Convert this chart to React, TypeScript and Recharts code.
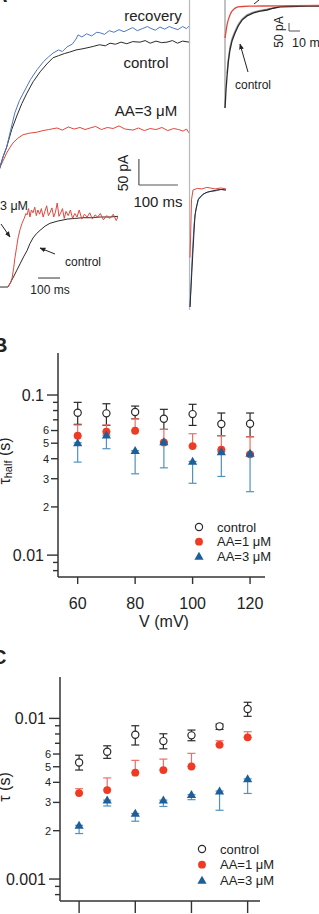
import React from "react";
import {
  LineChart,
  Line,
  XAxis,
  YAxis,
  ReferenceLine,
  ScatterChart,
  Scatter,
  ErrorBar,
} from "recharts";

const FONT = '"Liberation Sans", Arial, Helvetica, sans-serif';

// ---- panel A: current traces, [time ms, current pA] ----
const recoveryTrace: [number, number][] = [
  [-6, -18], [0, 0], [8, 20], [17, 38], [27, 70], [38, 104], [50, 128], [64, 148], [78, 168],
  [95, 187], [112, 203], [125, 212], [136, 219], [150, 225], [160, 222], [172, 231],
  [185, 236], [195, 246], [200, 254], [210, 250], [222, 256], [235, 252], [248, 259],
  [256, 258], [268, 255], [280, 262], [292, 259], [305, 264], [318, 260], [326, 263],
  [340, 268], [352, 262], [365, 266], [378, 270], [385, 267], [398, 263], [410, 269],
  [422, 265], [434, 270], [444, 267], [456, 264], [468, 270], [478, 266], [485, 271],
];
const controlTrace: [number, number][] = [
  [-6, -18], [0, 0], [8, 20], [17, 38], [30, 72], [44, 100], [56, 122], [69, 142], [85, 164],
  [103, 183], [120, 198], [136, 210], [150, 214], [165, 218], [179, 221], [195, 225],
  [210, 227], [223, 229], [240, 232], [255, 235], [270, 233], [282, 238], [296, 236],
  [310, 240], [325, 237], [340, 241], [359, 240], [372, 243], [385, 238], [400, 242],
  [414, 239], [428, 240], [442, 243], [455, 238], [468, 242], [485, 240],
];
const aa3Trace: [number, number][] = [
  [-6, -12], [0, 0], [8, 12], [17, 27], [25, 37], [33, 46], [45, 55], [59, 62], [75, 65],
  [95, 67], [110, 70], [125, 72], [146, 75], [160, 71], [175, 77], [190, 73],
  [205, 76], [218, 72], [231, 75], [245, 78], [260, 72], [275, 76], [290, 74],
  [305, 79], [320, 73], [341, 71], [355, 75], [370, 70], [385, 74], [400, 72],
  [415, 76], [430, 70], [445, 74], [458, 72], [469, 69], [478, 73], [485, 65],
];

// fast tail currents (bottom right of A)
const spikeRecovery: [number, number][] = [
  [1.3, -225], [6.4, -135], [11.5, -67], [16.7, -35], [24.4, -15], [39.7, -6],
  [52, -3], [65.4, -2], [80, 1], [93.6, 0],
];
const spikeControl: [number, number][] = [
  [1.3, -225], [9, -115], [14.1, -48], [21.8, -19], [34.6, -8], [46, -4],
  [57.7, -2], [70, 0], [82, 1], [93.6, 0],
];
const spikeAA3: [number, number][] = [
  [1.3, -130], [2.6, -96], [5.1, -19], [9, 0], [20, 3], [32, 2], [44, 5],
  [52.6, 4], [66, 2], [80, 4], [93.6, 2],
];

// top-right inset (10 ms scale)
const insetAA3: [number, number][] = [
  [0, -200], [0.9, -160], [1.8, -119], [3, -85], [4.5, -56], [6, -35], [8.2, -19],
  [10, -10], [11.8, -6], [16, -3], [22, -1], [34.5, 0], [50, 1], [65, 2], [85.5, 3],
];
const insetControl: [number, number][] = [
  [0, -638], [0.5, -580], [0.9, -525], [1.4, -480], [1.8, -444], [3, -350],
  [4.5, -275], [6.5, -215], [9.1, -169], [12, -125], [15.5, -88], [20, -62],
  [25.5, -44], [31, -33], [38.2, -25], [44, -14], [50, -6], [60, -3], [74.5, 0],
  [85.5, 0],
];
const insetRecovery: [number, number][] = [
  [1.8, -420], [3, -330], [4.5, -255], [6.5, -200], [9.1, -156], [12, -115],
  [15.5, -80], [20, -55], [25.5, -38], [31, -28], [38.2, -20], [44, -11], [50, -4],
  [60, -1], [74.5, 1], [85.5, 0],
];

// bottom-left inset, normalised activation
const normControl: [number, number][] = [
  [0, 0], [36, 0], [47, 0.06], [59, 0.13], [75, 0.23], [91, 0.33], [107, 0.43],
  [123, 0.52], [136, 0.62], [150, 0.7], [165, 0.76], [182, 0.81], [205, 0.87],
  [227, 0.91], [260, 0.94], [305, 0.97], [340, 0.98], [377, 0.99], [410, 0.99],
  [455, 1.0], [500, 1.0], [536, 1.01],
];
const normAA3: [number, number][] = [
  [36, 0], [48, 0.06], [55, 0.13], [62, 0.27], [68, 0.42], [75, 0.56], [82, 0.7],
  [91, 0.82], [100, 0.91], [110, 0.98], [118, 1.05], [123, 1.03], [130, 1.12],
  [136, 1.0], [143, 1.1], [150, 1.06], [158, 1.14], [165, 1.02], [172, 1.1],
  [180, 1.04], [188, 1.12], [196, 1.0], [204, 1.08], [212, 1.16], [220, 1.02],
  [227, 1.06], [236, 1.13], [244, 1.0], [252, 1.07], [260, 1.2], [268, 1.01],
  [276, 1.06], [284, 1.12], [292, 0.98], [300, 1.08], [310, 1.02], [320, 1.1],
  [330, 0.98], [340, 1.05], [350, 1.0], [360, 1.1], [372, 0.97], [384, 1.04],
  [396, 1.0], [408, 1.06], [420, 0.97], [432, 1.03], [444, 1.0], [456, 1.05],
  [470, 0.96], [485, 1.02], [500, 0.98], [515, 1.04], [528, 0.95], [536, 1.0],
];

// ---- panels B and C ----
const volts = [60, 70, 80, 90, 100, 110, 120];

const tHalfControl = [0.0775, 0.0768, 0.0783, 0.0711, 0.076, 0.0659, 0.0662];
const tHalfControlHi = [0.09, 0.0882, 0.0853, 0.0814, 0.0875, 0.0772, 0.0772];
const tHalfControlLo = [0.0656, 0.0646, 0.0711, 0.061, 0.0646, 0.0557, 0.0549];
const tHalfAA1 = [0.0557, 0.059, 0.0598, 0.0506, 0.048, 0.0455, 0.0426];
const tHalfAA1Hi = [0.065, 0.065, 0.071, 0.061, 0.0573, 0.0557, 0.0549];
const tHalfAA3 = [0.0503, 0.0562, 0.0449, 0.051, 0.0385, 0.0441, 0.0432];
const tHalfAA3Lo = [0.0381, 0.0462, 0.0322, 0.0351, 0.0281, 0.031, 0.0249];

const tauControl = [0.00532, 0.0062, 0.00791, 0.00722, 0.00784, 0.00892, 0.01143];
const tauControlHi = [0.0059, 0.00675, 0.009, 0.00802, 0.00846, 0.00922, 0.0126];
const tauControlLo = [0.00477, 0.00564, 0.00683, 0.00647, 0.00726, 0.00854, 0.0103];
const tauAA1 = [0.00343, 0.00358, 0.00459, 0.00477, 0.00502, 0.00685, 0.00762];
const tauAA1Hi = [0.00365, 0.00426, 0.00548, 0.00558, 0.00606, 0.00726, 0.00826];
const tauAA3 = [0.00216, 0.0031, 0.00256, 0.0031, 0.00335, 0.00353, 0.0042];
const tauAA3Lo = [0.00192, 0.00285, 0.00229, 0.00283, 0.00312, 0.00268, 0.00341];

const bTicks = [0.1, 0.09, 0.08, 0.07, 0.06, 0.05, 0.04, 0.03, 0.02, 0.01, 0.009, 0.008];
const bTickLabels = ["0.1", "", "", "", "6", "5", "4", "3", "2", "0.01", "", ""];
const cTicks = [
  0.01, 0.009, 0.008, 0.007, 0.006, 0.005, 0.004, 0.003, 0.002, 0.001, 0.0009, 0.0008,
];
const cTickLabels = ["0.01", "", "", "", "6", "5", "4", "3", "2", "0.001", "", ""];
const vTicks = [60, 80, 100, 120];
const legendLabels = ["control", "AA=1 μM", "AA=3 μM"];

const BLUE = "#4d78c6";
const BLACK = "#2a2a2a";
const RED = "#e2473c";
const GRAY = "#b9b9b9";
const DOT_RED = "#ef3b24";
const DOT_BLUE = "#1c5f9a";
const AXIS = "#333";
const INK = "#222";

const pts = (arr: [number, number][]) => arr.map(([t, i]) => ({ t, i }));

const rowsOf = (vals: number[], lo: number[], hi: number[]) =>
  volts.map((v, k) => ({ v, y: vals[k], err: [vals[k] - lo[k], hi[k] - vals[k]] }));

const circleOpen = (cx: number, cy: number) => (
  <circle cx={cx} cy={cy} r={3.6} fill="#fff" stroke={BLACK} strokeWidth={1.2} />
);
const circleRed = (cx: number, cy: number) => <circle cx={cx} cy={cy} r={3.9} fill={DOT_RED} />;
const triBlue = (cx: number, cy: number) => (
  <path d={`M${cx},${cy - 4.6} L${cx + 4.6},${cy + 3.4} L${cx - 4.6},${cy + 3.4} Z`} fill={DOT_BLUE} />
);
const markers = [circleOpen, circleRed, triBlue];

function makeYTick(values: number[], labels: string[]) {
  return (props: any) => {
    const { x, y, payload } = props;
    const lab = labels[values.indexOf(payload.value)] || "";
    const major = lab.includes(".");
    const len = major ? 11 : lab ? 7 : 5;
    return (
      <g>
        <line x1={x} x2={x - len} y1={y} y2={y} stroke={AXIS} strokeWidth={1.4} />
        {lab && (
          <text
            x={x - len - (major ? 3 : 2)}
            y={y}
            dy="0.35em"
            textAnchor="end"
            fontSize={major ? 16 : 11}
            fill={INK}
            fontFamily={FONT}
          >
            {lab}
          </text>
        )}
      </g>
    );
  };
}

function makeXTick(len: number) {
  return (props: any) => {
    const { x, y, payload } = props;
    return (
      <g>
        <line x1={x} x2={x} y1={y} y2={y + len} stroke={AXIS} strokeWidth={1.4} />
        <text x={x} y={y + 26} dy="0.35em" textAnchor="middle" fontSize={16} fill={INK} fontFamily={FONT}>
          {payload.value}
        </text>
      </g>
    );
  };
}

function T({ x, y, size, rotate = 0, anchor = "middle", bold = false, children }: any) {
  return (
    <text
      transform={`translate(${x},${y}) rotate(${rotate})`}
      textAnchor={anchor}
      dominantBaseline="central"
      fontSize={size}
      fontWeight={bold ? 700 : 400}
      fontFamily={FONT}
      fill={INK}
    >
      {children}
    </text>
  );
}

function LegendRows({ x, y, gap }: { x: number; y: number; gap: number }) {
  return (
    <g>
      {legendLabels.map((label, k) => (
        <g key={label}>
          {markers[k](x, y + k * gap)}
          <T x={x + 18} y={y + k * gap} size={13} anchor="start">
            {label}
          </T>
        </g>
      ))}
    </g>
  );
}

function TauPlot({
  width, height, margin, yWidth, xHeight, xDomain, yDomain, ticks, tickLabels, tickLen,
  control, aa1, aa3,
}: any) {
  return (
    <ScatterChart width={width} height={height} margin={margin}>
      <XAxis
        type="number"
        dataKey="v"
        domain={xDomain}
        ticks={vTicks}
        height={xHeight}
        tickSize={0}
        tickMargin={0}
        tickLine={false}
        axisLine={{ stroke: AXIS, strokeWidth: 1.5 }}
        tick={makeXTick(tickLen)}
        allowDataOverflow
      />
      <YAxis
        type="number"
        dataKey="y"
        scale="log"
        domain={yDomain}
        ticks={ticks}
        width={yWidth}
        tickSize={0}
        tickMargin={0}
        tickLine={false}
        interval={0}
        axisLine={{ stroke: AXIS, strokeWidth: 1.5 }}
        tick={makeYTick(ticks, tickLabels)}
        allowDataOverflow
      />
      <Scatter data={control} shape={(p: any) => circleOpen(p.cx, p.cy)} isAnimationActive={false}>
        <ErrorBar dataKey="err" direction="y" width={4} stroke={BLACK} strokeWidth={1.2} isAnimationActive={false} />
      </Scatter>
      <Scatter data={aa1} shape={(p: any) => circleRed(p.cx, p.cy)} isAnimationActive={false}>
        <ErrorBar dataKey="err" direction="y" width={4} stroke="#ef6e62" strokeWidth={1.2} isAnimationActive={false} />
      </Scatter>
      <Scatter data={aa3} shape={(p: any) => triBlue(p.cx, p.cy)} isAnimationActive={false}>
        <ErrorBar dataKey="err" direction="y" width={4} stroke="#4f93bf" strokeWidth={1.2} isAnimationActive={false} />
      </Scatter>
    </ScatterChart>
  );
}

const noMargin = { top: 0, right: 0, bottom: 0, left: 0 };
const hiddenAxes = (xd: number[], yd: number[]) => [
  <XAxis key="x" type="number" dataKey="t" domain={xd} hide allowDataOverflow />,
  <YAxis key="y" type="number" dataKey="i" domain={yd} hide allowDataOverflow />,
];

function trace(data: [number, number][], color: string, w = 1) {
  return (
    <Line
      data={pts(data)}
      dataKey="i"
      type="linear"
      stroke={color}
      strokeWidth={w}
      dot={false}
      activeDot={false}
      isAnimationActive={false}
    />
  );
}

export default function App() {
  const bControl = rowsOf(tHalfControl, tHalfControlLo, tHalfControlHi);
  const bAA1 = rowsOf(tHalfAA1, tHalfAA1, tHalfAA1Hi);
  const bAA3 = rowsOf(tHalfAA3, tHalfAA3Lo, tHalfAA3);
  const cControl = rowsOf(tauControl, tauControlLo, tauControlHi);
  const cAA1 = rowsOf(tauAA1, tauAA1, tauAA1Hi);
  const cAA3 = rowsOf(tauAA3, tauAA3Lo, tauAA3);

  return (
    <div
      style={{
        position: "absolute",
        left: 0,
        top: 0,
        width: 319,
        height: 914,
        overflow: "hidden",
        background: "#fff",
        fontFamily: FONT,
      }}
    >
      {/* A: main traces */}
      <div style={{ position: "absolute", left: 0, top: 0 }}>
        <LineChart width={190} height={205} margin={noMargin}>
          {hiddenAxes([0, 487], [-73, 321])}
          <ReferenceLine segment={[{ x: 356, y: -34.6 }, { x: 356, y: 15.4 }]} stroke="#555" strokeWidth={1.2} />
          <ReferenceLine segment={[{ x: 356, y: -34.6 }, { x: 456, y: -34.6 }]} stroke="#555" strokeWidth={1.2} />
          {trace(aa3Trace, RED)}
          {trace(controlTrace, BLACK)}
          {trace(recoveryTrace, BLUE)}
        </LineChart>
      </div>
      {/* A: fast tails */}
      <div style={{ position: "absolute", left: 186, top: 0 }}>
        <LineChart width={42} height={310} margin={noMargin}>
          {hiddenAxes([-9, 98.7], [-230.8, 365.4])}
          <ReferenceLine x={0} stroke={GRAY} strokeWidth={1.2} />
          {trace(spikeRecovery, BLUE)}
          {trace(spikeControl, BLACK)}
          {trace(spikeAA3, RED)}
        </LineChart>
      </div>
      {/* A: top-right inset */}
      <div style={{ position: "absolute", left: 222, top: 0 }}>
        <LineChart width={97} height={112} margin={noMargin}>
          {hiddenAxes([-2.727, 85.45], [-662.5, 37.5])}
          <ReferenceLine segment={[{ x: 0, y: 37.5 }, { x: 0, y: -638 }]} stroke="#999" strokeWidth={1.2} />
          <ReferenceLine segment={[{ x: 58.2, y: -156.25 }, { x: 58.2, y: -106.25 }]} stroke="#555" strokeWidth={1} />
          <ReferenceLine segment={[{ x: 58.2, y: -156.25 }, { x: 68.2, y: -156.25 }]} stroke="#555" strokeWidth={1} />
          {trace(insetRecovery, "#9a9a9a", 1.2)}
          {trace(insetControl, BLACK, 1.3)}
          {trace(insetAA3, RED, 1.3)}
        </LineChart>
      </div>
      {/* A: bottom-left inset */}
      <div style={{ position: "absolute", left: 0, top: 200 }}>
        <LineChart width={122} height={95} margin={noMargin}>
          {hiddenAxes([0, 554.5], [-0.114, 1.243])}
          <ReferenceLine segment={[{ x: 173, y: 0.1286 }, { x: 273, y: 0.1286 }]} stroke="#555" strokeWidth={1.2} />
          {trace(normControl, BLACK)}
          {trace(normAA3, RED)}
        </LineChart>
      </div>

      {/* B */}
      <div style={{ position: "absolute", left: 0, top: 320 }}>
        <TauPlot
          width={319}
          height={300}
          margin={{ top: 33, right: 54, bottom: 0, left: 0 }}
          yWidth={58}
          xHeight={43}
          xDomain={[53.15, 125.2]}
          yDomain={[0.0073, 0.183]}
          ticks={bTicks}
          tickLabels={bTickLabels}
          tickLen={7}
          control={bControl}
          aa1={bAA1}
          aa3={bAA3}
        />
      </div>
      {/* C */}
      <div style={{ position: "absolute", left: 0, top: 620 }}>
        <TauPlot
          width={319}
          height={320}
          margin={{ top: 57, right: 59, bottom: 0, left: 0 }}
          yWidth={60}
          xHeight={39}
          xDomain={[53.2, 124.4]}
          yDomain={[0.00073, 0.0181]}
          ticks={cTicks}
          tickLabels={cTickLabels}
          tickLen={12}
          control={cControl}
          aa1={cAA1}
          aa3={cAA3}
        />
      </div>

      {/* annotations and labels */}
      <svg width={319} height={914} style={{ position: "absolute", left: 0, top: 0, pointerEvents: "none" }}>
        <defs>
          <marker id="ah" viewBox="0 0 10 10" refX="9" refY="5" markerWidth="6" markerHeight="6" orient="auto">
            <path d="M0,1 L10,5 L0,9 z" fill={INK} />
          </marker>
        </defs>
        <line x1={248} y1={72} x2={240} y2={44} stroke={INK} strokeWidth={1} markerEnd="url(#ah)" />
        <line x1={259} y1={0} x2={254} y2={4} stroke={INK} strokeWidth={1} />
        <line x1={1} y1={224} x2={10} y2={237} stroke={INK} strokeWidth={1} markerEnd="url(#ah)" />
        <line x1={55} y1={254} x2={40} y2={248} stroke={INK} strokeWidth={1} markerEnd="url(#ah)" />

        <T x={-7} y={-5} size={20} bold anchor="start">A</T>
        <T x={153} y={15} size={15}>recovery</T>
        <T x={146} y={62} size={15}>control</T>
        <T x={146} y={110} size={15}>AA=3 μM</T>
        <T x={123} y={173} size={14} rotate={-90}>50 pA</T>
        <T x={158} y={201} size={15}>100 ms</T>
        <T x={279} y={32} size={12} rotate={-90}>50 pA</T>
        <T x={292} y={43} size={12.5} anchor="start">10 ms</T>
        <T x={253} y={85} size={12}>control</T>
        <T x={28} y={206} size={12.5} anchor="end">AA=3 μM</T>
        <T x={83} y={262} size={12}>control</T>
        <T x={50} y={290} size={12}>100 ms</T>

        <T x={-7} y={345} size={20} bold anchor="start">B</T>
        <text
          transform="translate(4,461) rotate(-90)"
          textAnchor="middle"
          dominantBaseline="central"
          fontSize={16}
          fontFamily={FONT}
          fill={INK}
        >
          τ<tspan fontSize={11} dy={4}>half</tspan>
          <tspan dy={-4}> (s)</tspan>
        </text>
        <LegendRows x={199} y={527} gap={14.7} />
        <T x={164} y={621} size={16}>V (mV)</T>

        <T x={-8} y={657} size={20} bold anchor="start">C</T>
        <T x={4} y={787} size={16} rotate={-90}>τ (s)</T>
        <LegendRows x={202} y={849} gap={15.7} />
      </svg>
    </div>
  );
}
